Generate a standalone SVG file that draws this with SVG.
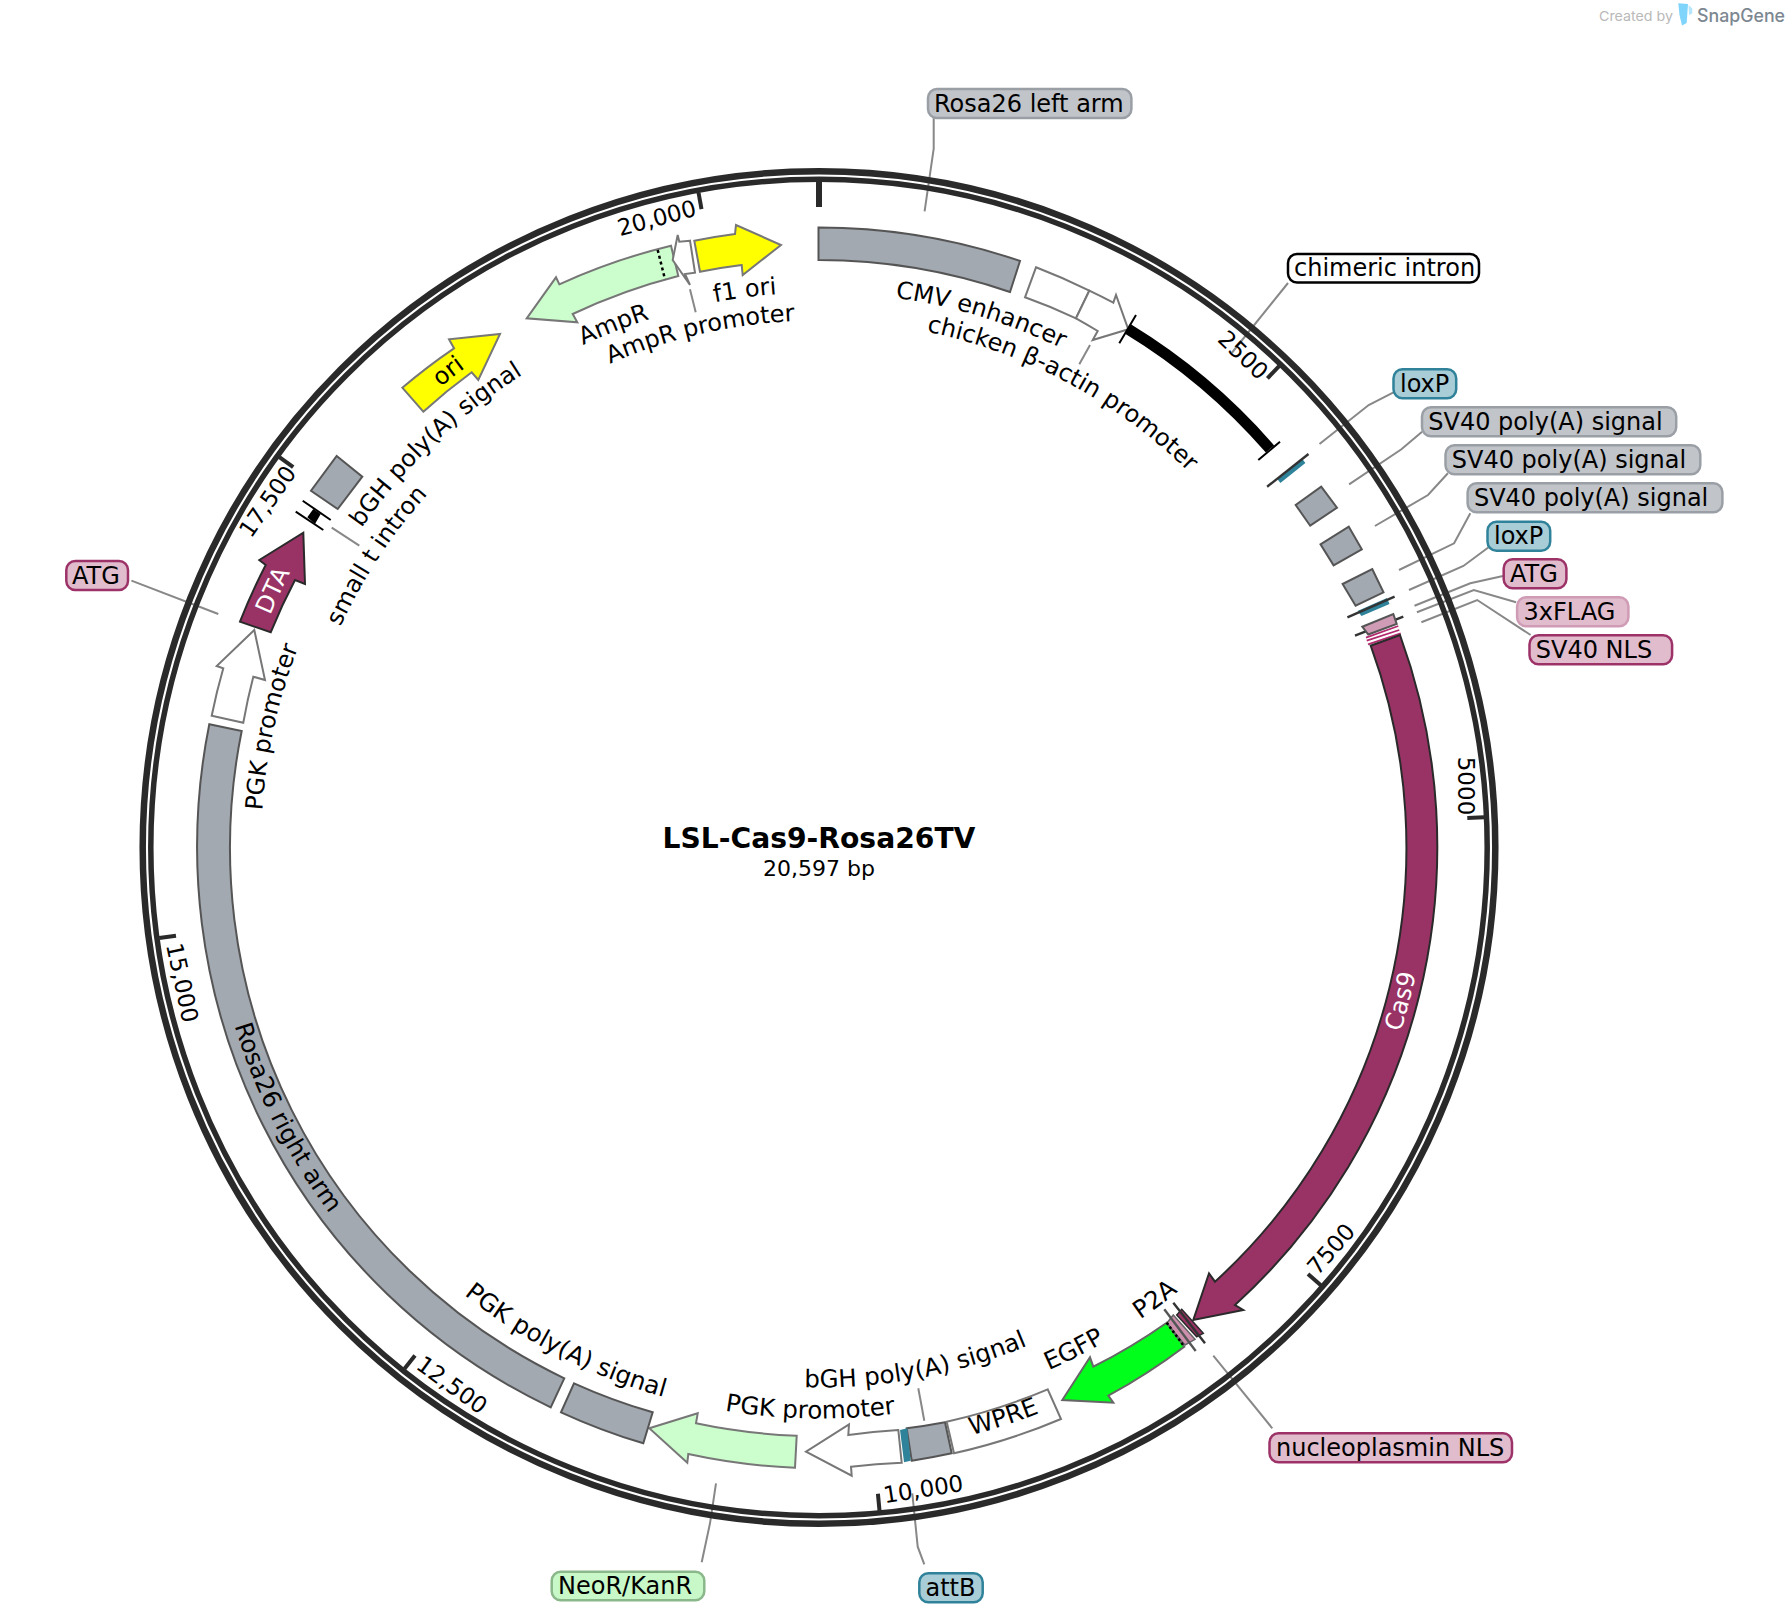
<svg xmlns="http://www.w3.org/2000/svg" xmlns:xlink="http://www.w3.org/1999/xlink" width="1792" height="1624" viewBox="0 0 1792 1624">
<style>
text{font-family:"DejaVu Sans",sans-serif;font-size:24px;fill:#000}
.tk{font-size:23px;dominant-baseline:central;text-anchor:middle}
.mid{text-anchor:middle}
.in{font-size:24.5px}
.wt{fill:#fff}
.f{stroke-width:2;stroke-linejoin:miter}
.gray{fill:#a3a9b1;stroke:#555}
.white{fill:#fff;stroke:#777}
.mag{fill:#993366;stroke:#2a2a2a}
.yel{fill:#ff0;stroke:#777}
.lg{fill:#ccfdcc;stroke:#777}
.grn{fill:#00ff1a;stroke:#666}
.teal{fill:#2e8299;stroke:none}
.cap{stroke:#333;stroke-width:2.4;fill:none}
.bcap{stroke:#000;stroke-width:2;fill:none}
.lead{stroke:#888;stroke-width:2;fill:none}
.tick{stroke:#2a2a2a;stroke-width:4}
.ring{fill:none;stroke:#2a2a2a}
.b{stroke-width:2.5}
.lgr{fill:#c1c4c9;stroke:#9a9fa6}
.llx{fill:#a8cdd6;stroke:#2f8299}
.lpk{fill:#e0bccd;stroke:#9d3268}
.lpl{fill:#e0bccd;stroke:#cf9bb5}
.lgn{fill:#c8f8c8;stroke:#8ab88a}
.lwh{fill:#fff;stroke:#000}
</style>
<defs>
<path id="c527" d="M819 320.5A527 527 0 1 1 819 1374.5A527 527 0 1 1 819 320.5"/>
<path id="c555" d="M819 292.5A555 555 0 1 1 819 1402.5A555 555 0 1 1 819 292.5"/>
<path id="c558" d="M819 289.5A558 558 0 1 1 819 1405.5A558 558 0 1 1 819 289.5"/>
<path id="c596" d="M819 251.5A596 596 0 1 1 819 1443.5A596 596 0 1 1 819 251.5"/>
<path id="w540" d="M819 307.5A540 540 0 1 0 819 1387.5A540 540 0 1 0 819 307.5"/>
<path id="w571" d="M819 276.5A571 571 0 1 0 819 1418.5A571 571 0 1 0 819 276.5"/>
<path id="w607" d="M819 240.5A607 607 0 1 0 819 1454.5A607 607 0 1 0 819 240.5"/>
<path id="w610" d="M819 237.5A610 610 0 1 0 819 1457.5A610 610 0 1 0 819 237.5"/>
<path id="w611" d="M819 236.5A611 611 0 1 0 819 1458.5A611 611 0 1 0 819 236.5"/>
</defs>
<rect width="1792" height="1624" fill="#fff"/>

<g id="watermark">
<text x="1599" y="20.5" textLength="74" lengthAdjust="spacingAndGlyphs" style="font-family:Inter,'Liberation Sans',sans-serif;font-size:13.5px;fill:#b9b9b9">Created by</text>
<polygon points="1678.3,3.3 1688,4 1686.7,23 1682,25.5 1679.5,15" fill="#7fd4fb"/>
<polygon points="1688.5,5 1692.3,8.5 1692.3,13.5 1689,15" fill="#b5e6fc"/>
<text x="1697" y="22" textLength="88" lengthAdjust="spacingAndGlyphs" style="font-family:Inter,'Liberation Sans',sans-serif;font-size:18px;font-weight:500;fill:#7c8791">SnapGene</text>
</g>

<g id="connectors">
<path class="lead" d="M924.6 211.4L933.7 148.6V118"/>
<path class="lead" d="M1231.7 353L1288 283"/>
<path class="lead" d="M1319.5 444L1368.7 405L1393.5 392.3"/>
<path class="lead" d="M1349.1 484.3L1401.4 449.3L1422.1 431.7"/>
<path class="lead" d="M1374.9 526L1428 495L1447.9 473.3"/>
<path class="lead" d="M1399 570L1454.1 543.3L1470.3 513.3"/>
<path class="lead" d="M1409 590L1463.4 566L1488.6 547.3"/>
<path class="lead" d="M1414.5 605.7L1470.3 583.3L1503 576"/>
<path class="lead" d="M1416.9 612.3L1473.8 590L1516.1 602.3"/>
<path class="lead" d="M1421.4 622.3L1477.2 600L1530.6 635"/>
<path class="lead" d="M1213.3 1355.7L1272.3 1428.3"/>
<path class="lead" d="M912.3 1493.3L917.7 1546.7L924.3 1564.3"/>
<path class="lead" d="M716 1483.3L710 1523.3L701.7 1562.3"/>
<path class="lead" d="M131.4 580.6L218.3 614"/>
<path class="lead" d="M1090 345L1079.3 364.3"/>
<path class="lead" d="M690 289.3L695.7 312.3"/>
<path class="lead" d="M331.7 527.7L359.3 545.7"/>
<path class="lead" d="M918.3 1388.3L924.3 1420.7"/>
</g>

<g id="backbone">
<circle class="ring" cx="819" cy="847.5" r="676.3" stroke-width="6.5"/>
<circle class="ring" cx="819" cy="847.5" r="668.2" stroke-width="5.5"/>
<line x1="819" y1="182" x2="819" y2="207" stroke="#2a2a2a" stroke-width="6"/>
<line class="tick" x1="1279.1" y1="366.1" x2="1267.4" y2="378.3"/>
<line class="tick" x1="1484.3" y1="817.2" x2="1467.3" y2="817.9"/>
<line class="tick" x1="1320.8" y1="1285.3" x2="1308" y2="1274.1"/>
<line class="tick" x1="879.5" y1="1510.8" x2="877.9" y2="1493.8"/>
<line class="tick" x1="404.5" y1="1368.8" x2="415" y2="1355.5"/>
<line class="tick" x1="159.2" y1="938.1" x2="176" y2="935.8"/>
<line class="tick" x1="279.4" y1="457.1" x2="293.2" y2="467.1"/>
<line class="tick" x1="698.5" y1="192.5" x2="701.5" y2="209.2"/>
<text class="tk" transform="translate(1243.2 355) rotate(43.7)">2500</text>
<text class="tk" transform="translate(1465.7 786) rotate(90)">5000</text>
<text class="tk" transform="translate(1331 1249) rotate(-49)">7500</text>
<text class="tk" transform="translate(923.3 1489) rotate(-9)">10,000</text>
<text class="tk" transform="translate(452 1385) rotate(36)">12,500</text>
<text class="tk" transform="translate(182.3 982.7) rotate(78)">15,000</text>
<text class="tk" transform="translate(267.5 501.5) rotate(-55)">17,500</text>
<text class="tk" transform="translate(656.7 218) rotate(-15)">20,000</text>
</g>

<g id="title">
<text class="mid" x="819" y="848" style="font-size:28.2px;font-weight:bold">LSL-Cas9-Rosa26TV</text>
<text class="mid" x="819" y="876" style="font-size:22px">20,597 bp</text>
</g>

<g id="rosa26-left-arm">
<path class="f gray" d="M818.5 227.5A620 620 0 0 1 1020 261L1010 292A588 588 0 0 0 818.5 260Z"/>
<rect class="lgr b" x="928" y="89" width="203.4" height="29" rx="9"/><text x="934" y="111.5">Rosa26 left arm</text>
</g>
<g id="cmv-enhancer">
<path class="f white" d="M1036 267.3A620 620 0 0 1 1089.3 290.7L1076 318.3A588 588 0 0 0 1025 297.3Z"/>
<text class="mid"><textPath xlink:href="#c555" href="#c555" startOffset="4.7%">CMV enhancer</textPath></text>
</g>
<g id="chicken-actin-promoter">
<path class="f white" d="M1089.3 290.7A620 620 0 0 1 1113.3 302.7L1116 295L1128.3 329.3L1092.7 340L1097.7 331A588 588 0 0 0 1076 318.3Z"/>
<text class="mid"><textPath xlink:href="#c527" href="#c527" startOffset="7.82%">chicken β-actin promoter</textPath></text>
</g>
<g id="chimeric-intron">
<path d="M1128 329A604 604 0 0 1 1270 449" fill="none" stroke="#000" stroke-width="11"/>
<path class="bcap" d="M1136 315L1119.3 343.3M1280 441.7L1258.3 460"/>
<rect class="lwh b" x="1288" y="254" width="191" height="28.5" rx="9"/><text x="1294" y="276">chimeric intron</text>
</g>
<g id="loxP-1">
<polygon class="teal" points="1302.3,459 1305.4,462.9 1280.4,482.9 1277.3,479"/>
<path class="cap" d="M1308.5 454L1267.1 486.7"/>
<rect class="llx b" x="1393.5" y="369.3" width="62.7" height="29" rx="9"/><text x="1400" y="391.8">loxP</text>
</g>
<g id="sv40-polyA-1">
<polygon class="f gray" points="1321.2,486.7 1337,507.7 1310.2,525.7 1295.7,505"/>
<rect class="lgr b" x="1422" y="407.3" width="254.2" height="29" rx="9"/><text x="1428.3" y="429.8">SV40 poly(A) signal</text>
</g>
<g id="sv40-polyA-2">
<polygon class="f gray" points="1348.8,526.7 1361.8,549.3 1333.6,565.3 1320.5,544.3"/>
<rect class="lgr b" x="1445.5" y="445.3" width="254.8" height="29" rx="9"/><text x="1451.8" y="467.8">SV40 poly(A) signal</text>
</g>
<g id="sv40-polyA-3">
<polygon class="f gray" points="1372.2,569 1383.5,592.3 1355.6,605.7 1342.6,584"/>
<rect class="lgr b" x="1467.6" y="483.3" width="254.8" height="29" rx="9"/><text x="1473.9" y="505.8">SV40 poly(A) signal</text>
</g>
<g id="loxP-2">
<polygon class="teal" points="1387,598 1389.5,604 1361.5,616 1357.5,611"/>
<path class="cap" d="M1394.6 596.7L1347.4 617.3"/>
<rect class="llx b" x="1487.5" y="521.7" width="62.7" height="29" rx="9"/><text x="1494" y="544.2">loxP</text>
</g>
<g id="atg-right">
<path class="cap" d="M1403.3 616.7L1355 635.7"/>
<rect class="lpk b" x="1503.7" y="559.3" width="62.7" height="29" rx="9"/><text x="1510" y="581.8">ATG</text>
</g>
<g id="flag-3x">
<polygon fill="#cf9bb5" stroke="#555" stroke-width="2" points="1362.3,626.7 1393.3,614 1396.7,624 1368.3,634.5"/>
<rect class="lpl b" x="1517.1" y="597.3" width="111.3" height="29" rx="9"/><text x="1523.5" y="619.8">3xFLAG</text>
</g>
<g id="sv40-nls">
<path d="M1366 637.7L1398.3 626M1366.7 640.7L1399.3 630M1368 644.3L1400.7 633.3" fill="none" stroke="#b22a6e" stroke-width="1.8"/>
<rect class="lpk b" x="1529.5" y="635.3" width="142.6" height="29" rx="9"/><text x="1535.8" y="657.8">SV40 NLS</text>
</g>
<g id="cas9">
<path class="f mag" d="M1400 635A620 620 0 0 1 1235 1305L1243.3 1310L1193.3 1320L1209 1273.3L1215 1281.7A588 588 0 0 0 1370.7 645.7Z"/>
<text class="mid wt in"><textPath xlink:href="#w610" href="#w610" startOffset="70.89%">Cas9</textPath></text>
</g>
<g id="nucleoplasmin-nls">
<polygon points="1181.7,1309.3 1203.3,1333.3 1196.7,1336.7 1176.7,1315" fill="#993366" stroke="#2a2a2a" stroke-width="1.5"/>
<path class="cap" d="M1173.3 1302.7L1205 1343.3"/>
<rect class="lpk b" x="1269.5" y="1433.3" width="242.5" height="29" rx="9"/><text x="1276" y="1455.8">nucleoplasmin NLS</text>
</g>
<g id="p2a">
<polygon points="1173.3,1315 1195,1339.3 1185,1345 1166.7,1323.3" fill="#cc90ad" stroke="#666" stroke-width="1.5"/>
<path class="cap" d="M1164.3 1309.3L1195.7 1351" style="stroke:#555"/>
<text class="mid in"><textPath xlink:href="#w571" href="#w571" startOffset="60.17%">P2A</textPath></text>
</g>
<g id="egfp">
<path class="f grn" d="M1166.7 1322.7A588 588 0 0 1 1093.3 1366.7L1090 1357.3L1062.3 1400L1113.3 1402.7L1108.3 1395.7A620 620 0 0 0 1184.3 1346.7Z"/>
<path d="M1166.7 1322.7L1184.3 1346.7" stroke="#000" stroke-width="2.5" stroke-dasharray="2.5 2.5" fill="none"/>
<text class="mid in"><textPath xlink:href="#w571" href="#w571" startOffset="57.47%">EGFP</textPath></text>
</g>
<g id="wpre">
<path class="f white" d="M946.7 1421.7A588 588 0 0 0 1047.7 1389.3L1061 1419A620 620 0 0 1 954 1453.3Z"/>
<text class="mid in"><textPath xlink:href="#w607" href="#w607" startOffset="54.98%">WPRE</textPath></text>
</g>
<g id="bgh-polyA-bottom">
<path class="f gray" d="M906.7 1428.3A588 588 0 0 0 945 1422.3L951.7 1453.3A620 620 0 0 1 911.7 1460.7Z"/>
<text class="mid in"><textPath xlink:href="#w540" href="#w540" startOffset="52.94%">bGH poly(A) signal</textPath></text>
</g>
<g id="attB">
<polygon class="teal" points="900,1430 907.3,1428.3 910.7,1460.7 904,1462.3"/>
<rect class="llx b" x="919.3" y="1573.3" width="63.4" height="29" rx="9"/><text x="925.5" y="1595.8">attB</text>
</g>
<g id="pgk-promoter-bottom">
<path class="f white" d="M898.3 1430A588 588 0 0 0 848.3 1435L849 1424.3L806 1451.7L851.7 1475.7L851 1466.7A620 620 0 0 1 901.7 1462.7Z"/>
<text class="mid in"><textPath xlink:href="#w571" href="#w571" startOffset="49.75%">PGK promoter</textPath></text>
</g>
<g id="neoR-kanR">
<path class="f lg" d="M796.7 1435.7A588 588 0 0 1 696 1423.3L697.7 1413.3L649.3 1428.3L687.3 1462.7L688.3 1454A620 620 0 0 0 795 1467.7Z"/>
<rect class="lgn b" x="551.7" y="1571.7" width="152.6" height="28.5" rx="9"/><text x="558" y="1594">NeoR/KanR</text>
</g>
<g id="pgk-polyA">
<path class="f gray" d="M574 1383.3A588 588 0 0 0 652.7 1412.3L643.3 1443.3A620 620 0 0 1 561 1412.3Z"/>
<text class="mid in"><textPath xlink:href="#w571" href="#w571" startOffset="42.47%">PGK poly(A) signal</textPath></text>
</g>
<g id="rosa26-right-arm">
<path class="f gray" d="M209.3 724.3A621 621 0 0 0 550.7 1407.3L564.3 1378.3A588 588 0 0 1 241.7 731Z"/>
<text class="mid in"><textPath xlink:href="#w611" href="#w611" startOffset="32.47%">Rosa26 right arm</textPath></text>
</g>
<g id="pgk-promoter-left">
<path class="f white" d="M211.7 715.7A620 620 0 0 1 223.3 668.3L216.7 666L254.3 630L265 680L253.3 676.7A588 588 0 0 0 243.3 722.7Z"/>
<text class="mid"><textPath xlink:href="#c558" href="#c558" startOffset="78.45%">PGK promoter</textPath></text>
</g>
<g id="dta">
<path class="f mag" d="M240 621.7A620 620 0 0 1 265.7 565L259.3 560L303.3 532.7L305 584L295 580A588 588 0 0 0 270.7 632.3Z"/>
<text class="mid wt"><textPath xlink:href="#c596" href="#c596" startOffset="82%">DTA</textPath></text>
<rect class="lpk b" x="66.3" y="561" width="61.7" height="29" rx="9"/><text x="72" y="583.5">ATG</text>
</g>
<g id="small-t-intron">
<polygon points="313.3,509 320.7,514 315,524 307.3,517.3" fill="#000"/>
<path class="bcap" d="M302.7 500.7L330.7 520M295.7 511.7L323.3 530"/>
<text class="mid"><textPath xlink:href="#c527" href="#c527" startOffset="84.28%">small t intron</textPath></text>
</g>
<g id="bgh-polyA-top">
<polygon class="f gray" points="336.7,456 362.3,476.7 337.7,509 311,490.7"/>
<text class="mid"><textPath xlink:href="#c558" href="#c558" startOffset="87.9%">bGH poly(A) signal</textPath></text>
</g>
<g id="ori">
<path class="f yel" d="M402.3 387.7A620 620 0 0 1 454 348.3L449 339.3L500 334L478.3 380L471.7 372.3A588 588 0 0 0 423.3 411.7Z"/>
<text class="mid"><textPath xlink:href="#c596" href="#c596" startOffset="89.47%">ori</textPath></text>
</g>
<g id="ampR">
<path class="f lg" d="M671 245.7A620 620 0 0 0 559.3 284.3L556 277.3L526.7 318.3L577.3 322.3L572.7 314A588 588 0 0 1 678.3 276Z"/>
<path d="M657.7 250L665 279.3" stroke="#000" stroke-width="2.5" stroke-dasharray="3 3" fill="none"/>
<text class="mid"><textPath xlink:href="#c555" href="#c555" startOffset="94.04%">AmpR</textPath></text>
</g>
<g id="ampR-promoter">
<polygon class="f white" points="690,240.7 679.3,241.7 677.7,235 672.7,260 690,285 685,274 695,272.7"/>
<text class="mid"><textPath xlink:href="#c527" href="#c527" startOffset="96.39%">AmpR promoter</textPath></text>
</g>
<g id="f1-ori">
<path class="f yel" d="M694.3 240.7A620 620 0 0 1 735 234L736 225L781 245L742.7 275L741.7 265A588 588 0 0 0 700 271.7Z"/>
<text class="mid"><textPath xlink:href="#c555" href="#c555" startOffset="97.89%">f1 ori</textPath></text>
</g>
</svg>
